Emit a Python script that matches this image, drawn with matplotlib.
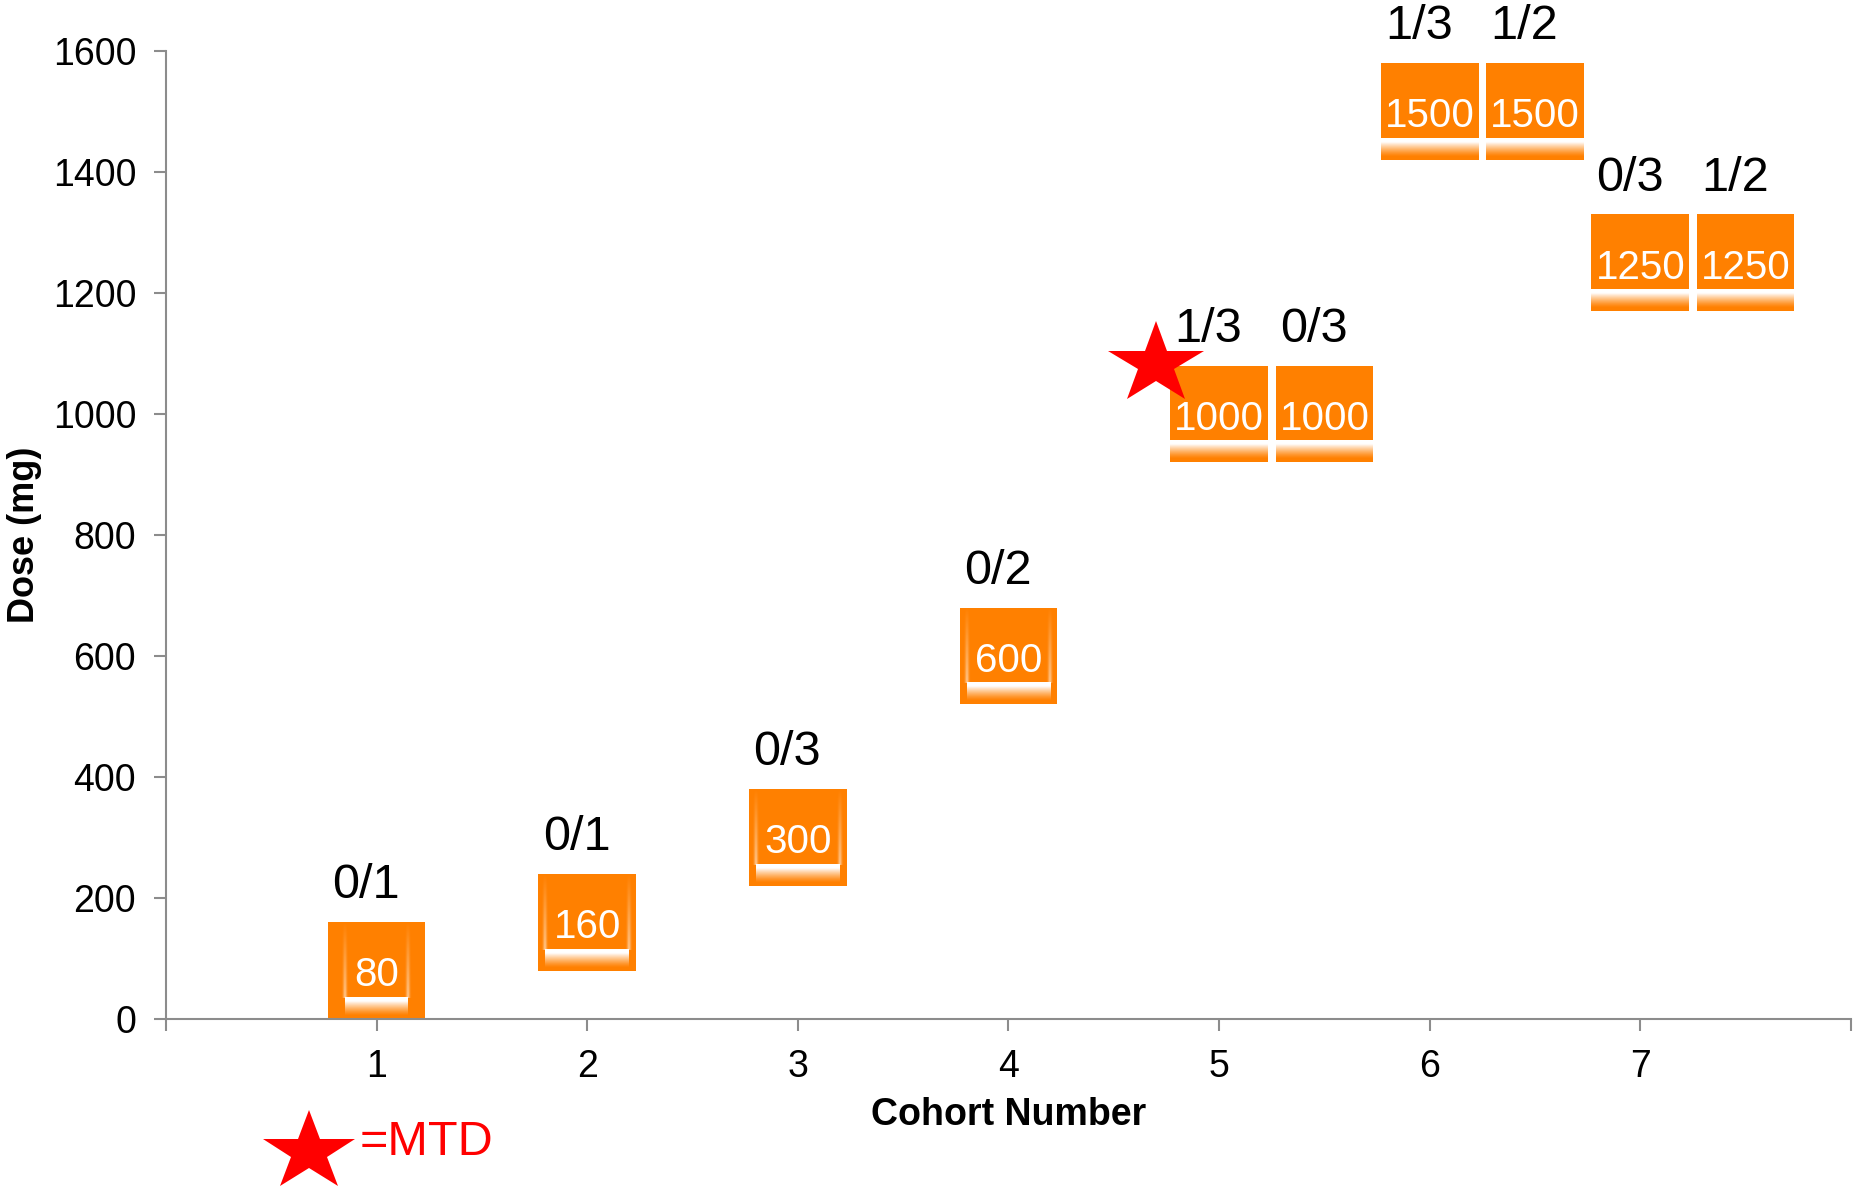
import numpy as np
import matplotlib.pyplot as plt
from matplotlib.patches import Rectangle
from matplotlib.markers import MarkerStyle
from matplotlib.transforms import Affine2D

plt.rcParams['font.family'] = ['Liberation Sans', 'DejaVu Sans']

# data
positions = [1, 2, 3, 4, 5, 5.5, 6, 6.5, 7, 7.5]
doses = [80, 160, 300, 600, 1000, 1000, 1500, 1500, 1250, 1250]
dose_labels = ['80', '160', '300', '600', '1000', '1000', '1500', '1500', '1250', '1250']
dlt_labels = ['0/1', '0/1', '0/3', '0/2', '1/3', '0/3', '1/3', '1/2', '0/3', '1/2']
x_ticks = [1, 2, 3, 4, 5, 6, 7]
y_ticks = [0, 200, 400, 600, 800, 1000, 1200, 1400, 1600]
mtd_x = 4.7
mtd_y = 1083

orange = '#FF8000'
gray = '#8C8C8C'
box_w = 0.464   # cohort units
box_h = 160     # mg
px_per_mg = 968 / 1600
px_per_unit = 211

star = MarkerStyle('*', transform=Affine2D().scale(1, 0.87))

fig = plt.figure(figsize=(18.55, 11.96), dpi=100)
ax = fig.add_axes([0.0895, 0.148, 0.9083, 0.8094])

# white fading band near the bottom of each box
band = np.ones((50, 2, 4))
band[:, :, 3] = np.concatenate([np.ones(10), np.linspace(1, 0, 40) ** 1.3])[:, None]
# soft side glow of the label panel
glow = np.ones((20, 9, 4))
glow[:, :, 3] = (0.55 * np.exp(-((np.arange(9) - 4) / 2.0) ** 2))[None, :] * \
    np.linspace(0, 1, 20)[:, None]

for x, d, lab, dl in zip(positions, doses, dose_labels, dlt_labels):
    ax.add_patch(Rectangle((x - box_w / 2, d - box_h / 2), box_w, box_h,
                           facecolor=orange, edgecolor='none', zorder=2))
    w = min(box_w, (21 * len(lab) + 21) / px_per_unit)
    y_top = d - box_h / 2 + 21 / px_per_mg
    y_bot = d - box_h / 2 + 3 / px_per_mg
    ax.imshow(band, extent=[x - w / 2, x + w / 2, y_bot, y_top], aspect='auto',
              interpolation='bilinear', zorder=3)
    if w < box_w:
        for sx in (x - w / 2, x + w / 2):
            ax.imshow(glow, extent=[sx - 4 / px_per_unit, sx + 4 / px_per_unit,
                                    y_top, d + 50 / px_per_mg],
                      aspect='auto', interpolation='bilinear', zorder=3)
    ax.text(x, d - 8, lab, color='white', fontsize=29, ha='center', va='center', zorder=4)
    ax.text(x - 0.05, d + 140, dl, color='black', fontsize=35, ha='center', va='center')

ax.plot(mtd_x, mtd_y, marker=star, color='red', markersize=72, markeredgewidth=0,
        clip_on=False, zorder=5)

ax.set_xlim(0, 8)
ax.set_ylim(0, 1600)
ax.set_xticks(range(0, 9))
ax.set_xticklabels([''] + [str(t) for t in x_ticks] + [''])
ax.set_yticks(y_ticks)
ax.set_yticklabels([str(t) for t in y_ticks])

for s in ['top', 'right']:
    ax.spines[s].set_visible(False)
for s in ['left', 'bottom']:
    ax.spines[s].set_color(gray)
    ax.spines[s].set_linewidth(1.5)
ax.tick_params(axis='both', colors=gray, width=1.5, length=8.5, labelsize=27,
               labelcolor='black', pad=13)

ax.set_xlabel('Cohort Number', fontsize=27, fontweight='bold', labelpad=9)
ax.set_ylabel('Dose (mg)', fontsize=26, fontweight='bold', labelpad=8)

# legend for the star
fig.lines.append(plt.Line2D([0.1666], [0.0368], marker=star, color='red', markersize=70,
                            markeredgewidth=0, transform=fig.transFigure))
fig.text(0.194, 0.0445, '=MTD', color='red', fontsize=35, ha='left', va='center')

fig.savefig('out.png', dpi=100)
